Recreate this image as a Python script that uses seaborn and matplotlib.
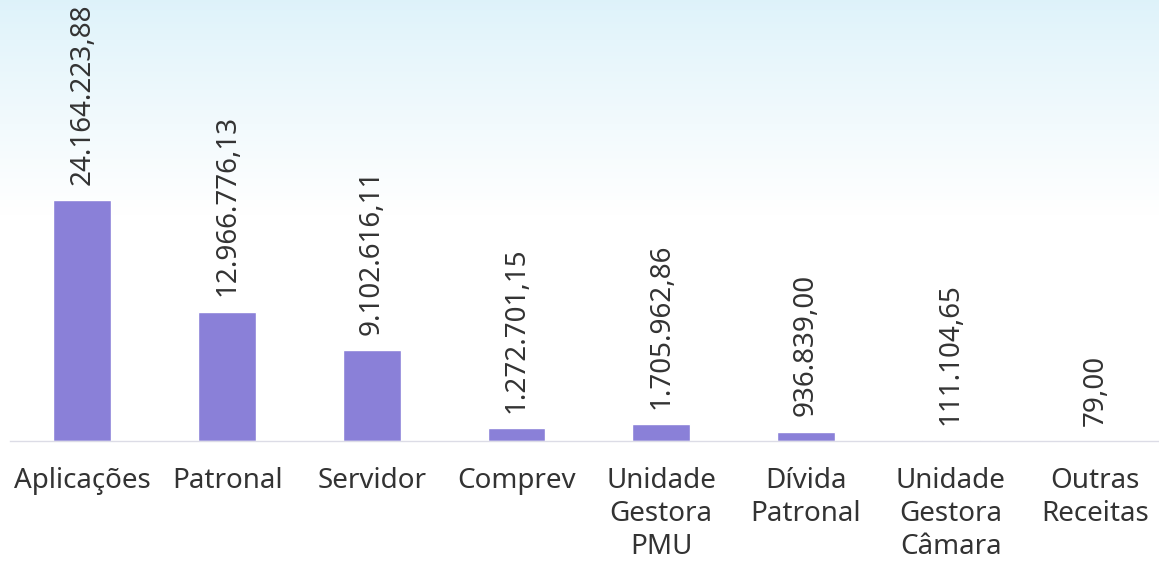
#!/usr/bin/env python3
"""Receitas por origem - bar chart with rotated value labels."""

import matplotlib

matplotlib.use("Agg")
import matplotlib.pyplot as plt
import numpy as np
import pandas as pd
import seaborn as sns

categories = [
    "Aplicações",
    "Patronal",
    "Servidor",
    "Comprev",
    "Unidade\nGestora\nPMU",
    "Dívida\nPatronal",
    "Unidade\nGestora\nCâmara",
    "Outras\nReceitas",
]
values = [
    24164223.88,
    12966776.13,
    9102616.11,
    1272701.15,
    1705962.86,
    936839.00,
    111104.65,
    79.00,
]

BAR_COLOR = "#8a80d8"
TEXT_COLOR = "#333333"
OUTPUT_FILENAME = "out.png"


def br_format(v: float) -> str:
    """Format a number the Brazilian way: 1.234.567,89"""
    s = f"{v:,.2f}"
    return s.replace(",", "X").replace(".", ",").replace("X", ".")


def main():
    sns.set_theme(style="white")
    plt.rcParams["font.family"] = ["Noto Sans", "DejaVu Sans"]

    df = pd.DataFrame({"categoria": categories, "valor": values})

    W, H = 1159, 564
    fig = plt.figure(figsize=(W / 100, H / 100), dpi=100)

    # light cyan wash at the top of the page, fading to white
    bg = fig.add_axes([0, 0, 1, 1], zorder=-10)
    grad = np.linspace(0, 1, 256).reshape(-1, 1)
    top = np.array([0.87, 0.95, 0.98])
    white = np.array([1.0, 1.0, 1.0])
    t = np.clip(grad / 0.38, 0, 1) ** 0.9
    img = top * (1 - t) + white * t
    bg.imshow(img.reshape(256, 1, 3), aspect="auto", extent=[0, 1, 0, 1])
    bg.axis("off")

    ax = fig.add_axes([10 / W, 123 / H, (W - 10) / W, (H - 123) / H])
    ax.patch.set_alpha(0)

    sns.barplot(
        data=df,
        x="categoria",
        y="valor",
        color=BAR_COLOR,
        saturation=1,
        width=0.4,
        ax=ax,
    )

    ax.bar_label(
        ax.containers[0],
        labels=[br_format(v) for v in values],
        rotation=90,
        padding=11,
        fontsize=20,
        color=TEXT_COLOR,
    )

    ax.set_xlim(-0.5, 7.44)
    ax.set_ylim(0, 44.2e6)
    ax.set_xlabel("")
    ax.set_ylabel("")
    ax.set_yticks([])
    ax.tick_params(axis="x", length=0, pad=19, labelsize=20, labelcolor=TEXT_COLOR)
    for lbl in ax.get_xticklabels():
        lbl.set_linespacing(1.22)

    for side in ["top", "right", "left"]:
        ax.spines[side].set_visible(False)
    ax.spines["bottom"].set_color("#dcdce6")
    ax.spines["bottom"].set_linewidth(1.0)

    fig.savefig(OUTPUT_FILENAME, dpi=100)


if __name__ == "__main__":
    main()
